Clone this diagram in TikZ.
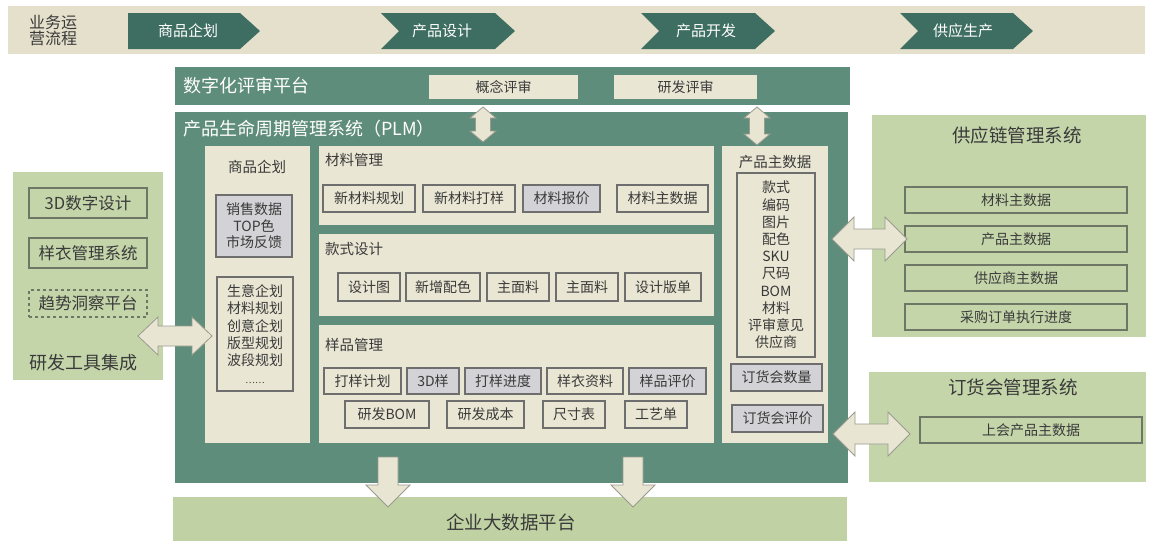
\documentclass[tikz,border=0pt]{standalone}
\usepackage{fontspec}
\setmainfont{Noto Sans CJK SC}
\definecolor{bandc}{HTML}{E4E0CB}
\definecolor{chev}{HTML}{3E6D61}
\definecolor{teal}{HTML}{5F8D7B}
\definecolor{beige}{HTML}{E9E6D3}
\definecolor{greenp}{HTML}{C4D5AA}
\definecolor{greenb}{HTML}{C0D2A3}
\definecolor{greyb}{HTML}{D3D3D7}
\definecolor{bord}{HTML}{6E6E6E}
\definecolor{gbord}{HTML}{6E7766}
\definecolor{txt}{HTML}{3A3A3A}
\definecolor{arrf}{HTML}{E8E5D3}
\definecolor{arrd}{HTML}{9A9A8E}
\newcommand\fsz[1]{\fontsize{#1}{#1}\selectfont}
% name, x1, y1, x2, y2, style, text
\newcommand\pbox[7]{%
  \pgfmathsetmacro\pbw{#4-#2}\pgfmathsetmacro\pbh{#5-#3}%
  \node[#6, minimum width=\pbw pt, minimum height=\pbh pt] (#1) at ({(#2+#4)/2},{(#3+#5)/2}) {#7};}
% horizontal double arrow: x1, x2, yc, head length, head half, shaft half
\newcommand\harrow[6]{\draw[arr] (#1,#3) -- (#1+#4,#3-#5) -- (#1+#4,#3-#6) -- (#2-#4,#3-#6) -- (#2-#4,#3-#5) -- (#2,#3) -- (#2-#4,#3+#5) -- (#2-#4,#3+#6) -- (#1+#4,#3+#6) -- (#1+#4,#3+#5) -- cycle;}
% vertical double arrow: xc, y1, y2, head length, head half, shaft half
\newcommand\varrow[6]{\draw[arr] (#1,#2) -- (#1+#5,#2+#4) -- (#1+#6,#2+#4) -- (#1+#6,#3-#4) -- (#1+#5,#3-#4) -- (#1,#3) -- (#1-#5,#3-#4) -- (#1-#6,#3-#4) -- (#1-#6,#2+#4) -- (#1-#5,#2+#4) -- cycle;}
% down arrow: xc, ytop, yhead, ytip, shaft half, head half
\newcommand\darrow[6]{\draw[arr] (#1-#5,#2) -- (#1+#5,#2) -- (#1+#5,#3) -- (#1+#6,#3) -- (#1,#4) -- (#1-#6,#3) -- (#1-#5,#3) -- cycle;}
\tikzset{
  base/.style={inner sep=0pt, outer sep=0pt, text=txt, font=\fsz{14}},
  bb/.style={base, draw=bord, line width=1.6pt, fill=beige},
  gb/.style={base, draw=bord, line width=1.6pt, fill=greyb},
  ob/.style={base, draw=gbord, line width=1.6pt},
  ttl/.style={base, font=\fsz{14.5}},
  wtl/.style={base, text=white, font=\fsz{18}},
  arr/.style={fill=arrf, draw=arrd, line width=0.8pt, line join=miter},
  chevtxt/.style={base, text=white, font=\fsz{15}},
}
\begin{document}
\begin{tikzpicture}[x=1pt,y=-1pt]
\useasboundingbox (0,0) rectangle (1152,542);
\fill[white] (0,0) rectangle (1152,542);

% ---- top process band
\pbox{band}{8}{6}{1145}{54}{base, fill=bandc}{}
\node[base, font=\fsz{16}, align=left, text=txt] (ops) at (53,30) {\fontsize{16}{19}\selectfont 业务运\\营流程};
\fill[chev] (128,13) -- (240,13) -- (260,31) -- (240,49) -- (128,49) -- cycle;
\node[chevtxt] (s1) at (188,31) {商品企划};
\fill[chev] (381,13) -- (495,13) -- (515,31) -- (495,49) -- (381,49) -- (399,31) -- cycle;
\node[chevtxt] (s2) at (442,31) {产品设计};
\fill[chev] (641,13) -- (755,13) -- (775,31) -- (755,49) -- (641,49) -- (659,31) -- cycle;
\node[chevtxt] (s3) at (706,31) {产品开发};
\fill[chev] (900,13) -- (1013,13) -- (1033,31) -- (1013,49) -- (900,49) -- (918,31) -- cycle;
\node[chevtxt] (s4) at (963,31) {供应生产};

% ---- review platform
\pbox{rev}{175}{67}{850}{105}{base, fill=teal}{}
\node[wtl, anchor=west] (revt) at (183,86) {数字化评审平台};
\pbox{gn}{429}{75}{578}{99}{base, fill=beige}{概念评审}
\pbox{yf}{614}{75}{757}{99}{base, fill=beige}{研发评审}

% ---- PLM
\pbox{plm}{175}{112}{848}{483}{base, fill=teal}{}
\node[wtl, anchor=west] (plmt) at (183,129) {产品生命周期管理系统（PLM）};

% 商品企划 column
\pbox{spq}{205}{146}{310}{443}{base, fill=beige}{}
\node[ttl] (spqt) at (257,167) {商品企划};
\pbox{sales}{216}{195}{292}{257}{gb, align=center, font=\fontsize{14}{16.5}\selectfont}{销售数据\\TOP色\\市场反馈}
\pbox{plan}{217}{277}{293}{391}{bb, align=center, font=\fontsize{14}{17.3}\selectfont}{生意企划\\材料规划\\创意企划\\版型规划\\波段规划\\{\fsz{9}……}}

% 材料管理
\pbox{clgl}{319}{146}{714}{225}{base, fill=beige}{}
\node[ttl, anchor=west] (clglt) at (325,160) {材料管理};
\pbox{m1}{323}{185}{415}{212}{bb}{新材料规划}
\pbox{m2}{423}{185}{515}{212}{bb}{新材料打样}
\pbox{m3}{523}{185}{600}{212}{gb}{材料报价}
\pbox{m4}{617}{185}{708}{212}{bb}{材料主数据}

% 款式设计
\pbox{ksjs}{319}{234}{714}{316}{base, fill=beige}{}
\node[ttl, anchor=west] (ksjst) at (325,249) {款式设计};
\pbox{k1}{338}{273}{400}{301}{bb}{设计图}
\pbox{k2}{406}{273}{480}{301}{bb}{新增配色}
\pbox{k3}{487}{273}{549}{301}{bb}{主面料}
\pbox{k4}{556}{273}{618}{301}{bb}{主面料}
\pbox{k5}{625}{273}{701}{301}{bb}{设计版单}

% 样品管理
\pbox{ypgl}{319}{325}{714}{443}{base, fill=beige}{}
\node[ttl, anchor=west] (ypglt) at (325,345) {样品管理};
\pbox{y1}{324}{368}{401}{394}{bb}{打样计划}
\pbox{y2}{407}{368}{459}{394}{gb}{3D样}
\pbox{y3}{465}{368}{541}{394}{gb}{打样进度}
\pbox{y4}{547}{368}{623}{394}{bb}{样衣资料}
\pbox{y5}{629}{368}{706}{394}{gb}{样品评价}
\pbox{y6}{345}{401}{429}{428}{bb}{研发BOM}
\pbox{y7}{447}{401}{524}{428}{bb}{研发成本}
\pbox{y8}{543}{401}{605}{428}{bb}{尺寸表}
\pbox{y9}{625}{401}{687}{428}{bb}{工艺单}

% 产品主数据
\pbox{cpz}{722}{146}{828}{443}{base, fill=beige}{}
\node[ttl] (cpzt) at (775,162) {产品主数据};
\pbox{cpzl}{737}{173}{815}{357}{bb, align=center, font=\fontsize{14}{17.2}\selectfont}{款式\\编码\\图片\\配色\\SKU\\尺码\\BOM\\材料\\评审意见\\供应商}
\pbox{dh1}{731}{364}{822}{391}{gb}{订货会数量}
\pbox{dh2}{732}{405}{823}{432}{gb}{订货会评价}

% ---- left tools panel
\pbox{tools}{13}{172}{163}{380}{base, fill=greenp}{}
\pbox{t1}{29}{188}{147}{218}{ob, font=\fsz{16.5}}{3D数字设计}
\pbox{t2}{29}{238}{147}{268}{ob, font=\fsz{16.5}}{样衣管理系统}
\pbox{t3}{29}{290}{147}{317}{ob, dashed, font=\fsz{16.5}}{趋势洞察平台}
\node[base, font=\fsz{18}] (toolst) at (83,363) {研发工具集成};

% ---- supply chain panel
\pbox{scm}{872}{115}{1146}{337}{base, fill=greenp}{}
\node[base, font=\fsz{18.5}] (scmt) at (1017,135) {供应链管理系统};
\pbox{c1}{905}{187}{1127}{213}{ob}{材料主数据}
\pbox{c2}{905}{226}{1127}{252}{ob}{产品主数据}
\pbox{c3}{905}{265}{1127}{291}{ob}{供应商主数据}
\pbox{c4}{905}{304}{1127}{330}{ob}{采购订单执行进度}

% ---- order fair panel
\pbox{dhh}{869}{372}{1146}{482}{base, fill=greenp}{}
\node[base, font=\fsz{18.5}] (dhht) at (1013,387) {订货会管理系统};
\pbox{o1}{920}{417}{1142}{443}{ob}{上会产品主数据}

% ---- bottom big data platform
\pbox{bd}{173}{497}{847}{541}{base, fill=greenb, font=\fsz{18.5}}{}
\node[base, font=\fsz{18.5}] (bdt) at (511,522) {企业大数据平台};

% ---- block arrows
\varrow{483}{107}{142}{11}{13}{7.5}
\varrow{757}{107}{145}{11}{13}{7.5}
\harrow{138}{212}{336}{20}{19}{10}
\harrow{832}{907}{239}{22}{22}{10}
\harrow{833}{910}{434}{22}{22}{10}
\darrow{388}{457}{485}{507}{10}{22}
\darrow{633}{457}{485}{507}{10}{22}
\end{tikzpicture}
\end{document}
